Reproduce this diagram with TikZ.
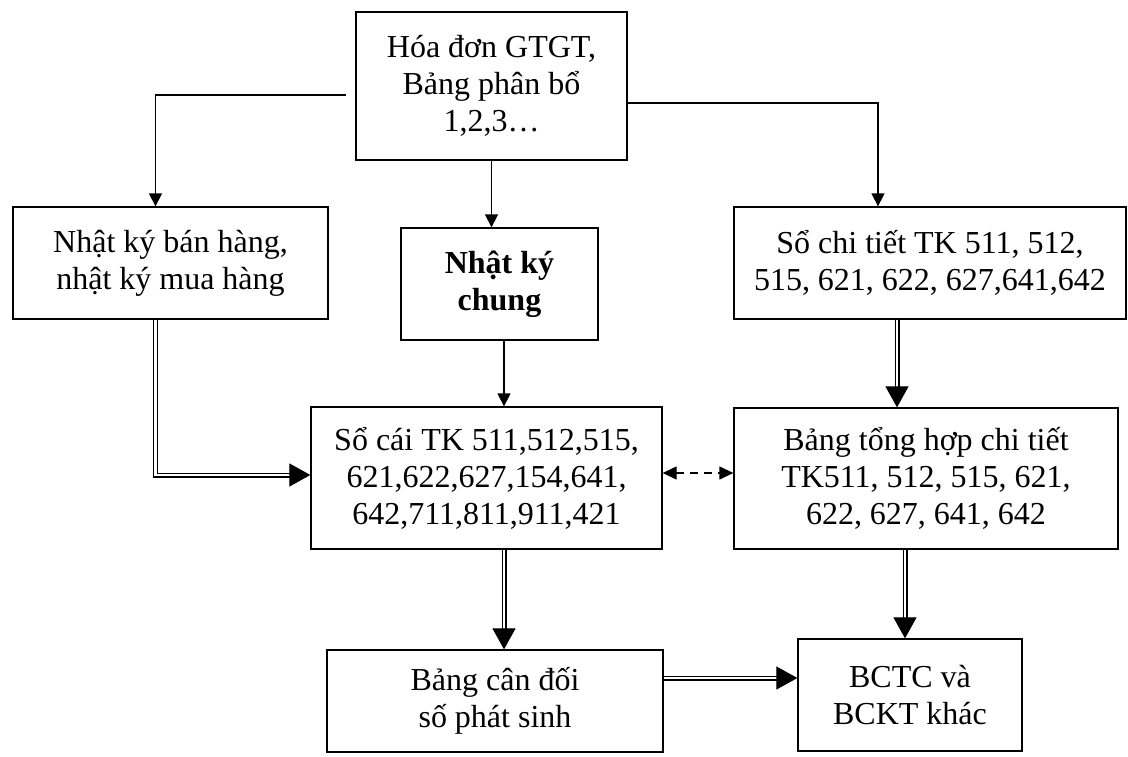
\documentclass[tikz,border=0pt]{standalone}
\usepackage{fontspec}
\setmainfont{Liberation Serif}
\usetikzlibrary{arrows.meta}
\begin{document}
\begin{tikzpicture}[x=1pt,y=-1pt,
  box/.style={draw, line width=1.3pt, align=center, inner sep=0pt,
    font=\fontsize{32}{37}\selectfont},
  arr/.style={line width=1.3pt, -{Triangle[length=13pt,width=13pt]}},
  dbl/.style={line width=1.2pt, double, double distance=2.6pt,
    -{Triangle[length=21pt,width=23pt]}},
  dsh/.style={line width=1.3pt, dash pattern=on 8pt off 6pt,
    {Triangle[length=14pt,width=13pt]}-{Triangle[length=14pt,width=13pt]}}]
\useasboundingbox (0,0) rectangle (1128,756);

% source documents and journals
\node[box, minimum width=271pt, minimum height=148pt] (hd) at (491.5,86)
  {Hóa đơn GTGT,\\Bảng phân bổ\\1,2,3…};
\node[box, minimum width=315pt, minimum height=112pt] (nkbh) at (170.5,263)
  {Nhật ký bán hàng,\\nhật ký mua hàng};
\node[box, minimum width=197pt, minimum height=112pt] (nkc) at (499.5,284)
  {\bfseries Nhật ký\\\bfseries chung};
\node[box, minimum width=392pt, minimum height=112pt] (sct) at (930,263)
  {Sổ chi tiết TK 511, 512,\\515, 621, 622, 627,641,642};

% ledgers and summaries
\node[box, minimum width=351pt, minimum height=142pt] (sc) at (486.5,478)
  {Sổ cái TK 511,512,515,\\621,622,627,154,641,\\642,711,811,911,421};
\node[box, minimum width=384pt, minimum height=141pt] (bth) at (926,478.5)
  {Bảng tổng hợp chi tiết\\TK511, 512, 515, 621,\\622, 627, 641, 642};

% reports
\node[box, minimum width=336pt, minimum height=102pt] (bcd) at (495,701)
  {Bảng cân đối\\số phát sinh};
\node[box, minimum width=224pt, minimum height=112pt] (bctc) at (910,695)
  {BCTC và\\BCKT khác};

% single arrows from the invoices
\draw[arr] ([xshift=-9pt,yshift=-9pt]hd.west) -| ([xshift=-15pt]nkbh.north);
\draw[arr] ([yshift=-17pt]hd.east) -| ([xshift=-52pt]sct.north);
\draw[arr] (hd.south) -- (hd.south |- nkc.north);
\draw[arr] ([xshift=4.5pt]nkc.south) -- ([xshift=4.5pt]nkc.south |- sc.north);

% double arrows
\draw[dbl] ([xshift=-15pt]nkbh.south) |- ([yshift=3pt]sc.west);
\draw[dbl] ([xshift=-33pt]sct.south) -- ([xshift=-33pt]sct.south |- bth.north);
\draw[dbl] ([xshift=17.5pt]sc.south) -- ([xshift=17.5pt]sc.south |- bcd.north);
\draw[dbl] ([xshift=-5pt]bctc.north |- bth.south) -- ([xshift=-5pt]bctc.north);
\draw[dbl] ([yshift=17pt]bctc.west -| bcd.east) -- ([yshift=17pt]bctc.west);

% reconciliation between ledger and detail summary
\draw[dsh] ([yshift=5pt]sc.east) -- ([yshift=5pt]sc.east -| bth.west);
\end{tikzpicture}
\end{document}
